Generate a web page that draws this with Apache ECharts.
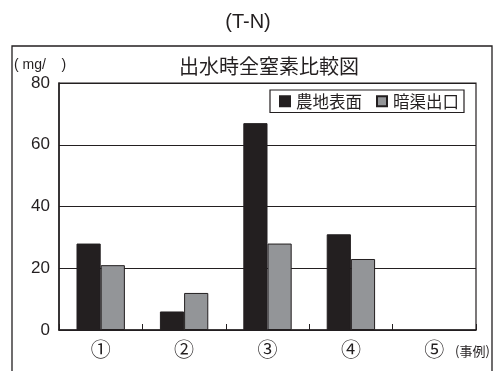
<!DOCTYPE html>
<html>
<head>
<meta charset="utf-8">
<script src="https://cdn.jsdelivr.net/npm/echarts@6/dist/echarts.min.js"></script>
<style>
html,body{margin:0;padding:0;background:#fff;}
#chart{width:496px;height:371px;}
</style>
</head>
<body>
<div id="chart"></div>
<script>
// 事例ごとの出水時全窒素 (mg/ )
const categories = ['①', '②', '③', '④', '⑤'];
const surfaceValues = [28, 6, 67, 31, null];   // 農地表面
const drainValues = [21, 12, 28, 23, null];    // 暗渠出口
const yTicks = [0, 20, 40, 60, 80];

const JP = '"Noto Sans CJK JP", "Liberation Sans", sans-serif';
const NUM = '"Liberation Sans", Arial, sans-serif';

const chart = echarts.init(document.getElementById('chart'));
chart.setOption({
  backgroundColor: '#fff',
  animation: false,
  title: [
    { text: '(T-N)', left: 'center', top: 7,
      textStyle: { fontFamily: NUM, fontSize: 20, fontWeight: 'normal', color: '#231f20' } },
    { text: '出水時全窒素比較図', left: 264, top: 51, textAlign: 'center',
      textStyle: { fontFamily: JP, fontSize: 20, fontWeight: 'normal', color: '#231f20' } }
  ],
  legend: {
    data: ['農地表面', '暗渠出口'],
    left: 270, top: 90,
    orient: 'horizontal',
    itemWidth: 10, itemHeight: 10, itemGap: 14,
    borderColor: '#231f20', borderWidth: 1.2,
    padding: [3, 5, 3, 9],
    backgroundColor: '#fff',
    icon: 'rect',
    textStyle: { fontFamily: JP, fontSize: 16.5, color: '#231f20', padding: [0, 0, 0, 1] }
  },
  grid: { left: 59, right: 20, top: 83, bottom: 41, show: true, borderColor: '#231f20', borderWidth: 1.2 },
  xAxis: {
    type: 'category',
    data: categories,
    axisLine: { lineStyle: { color: '#231f20', width: 1.5 } },
    axisTick: { show: true, inside: true, length: 6, lineStyle: { color: '#231f20', width: 1 } },
    axisLabel: { fontFamily: JP, fontSize: 20, color: '#231f20', margin: 9 }
  },
  yAxis: {
    type: 'value',
    min: yTicks[0], max: yTicks[yTicks.length - 1], interval: 20,
    axisLine: { show: true, lineStyle: { color: '#231f20', width: 1.5 } },
    axisTick: { show: true, inside: true, length: 6, lineStyle: { color: '#231f20' } },
    splitLine: { lineStyle: { color: '#231f20', width: 1.2 } },
    axisLabel: { fontFamily: NUM, fontSize: 17, color: '#231f20', margin: 9 }
  },
  series: [
    { name: '農地表面', type: 'bar', data: surfaceValues, barGap: '0%', barCategoryGap: '42%',
      itemStyle: { color: '#231f20', borderColor: '#231f20', borderWidth: 1 } },
    { name: '暗渠出口', type: 'bar', data: drainValues,
      itemStyle: { color: '#939598', borderColor: '#231f20', borderWidth: 1 } }
  ],
  graphic: [
    { type: 'rect', shape: { x: 12, y: 46, width: 480, height: 340 },
      style: { fill: 'none', stroke: '#231f20', lineWidth: 1.3 }, z: 0 },
    { type: 'text', left: 14, top: 58,
      style: { text: '( mg/    )', fontFamily: NUM, fontSize: 14, fill: '#231f20' } },
    { type: 'text', left: 455, top: 345,
      style: { text: '(事例)', fontFamily: JP, fontSize: 13, fill: '#231f20' } }
  ]
});
</script>
</body>
</html>
